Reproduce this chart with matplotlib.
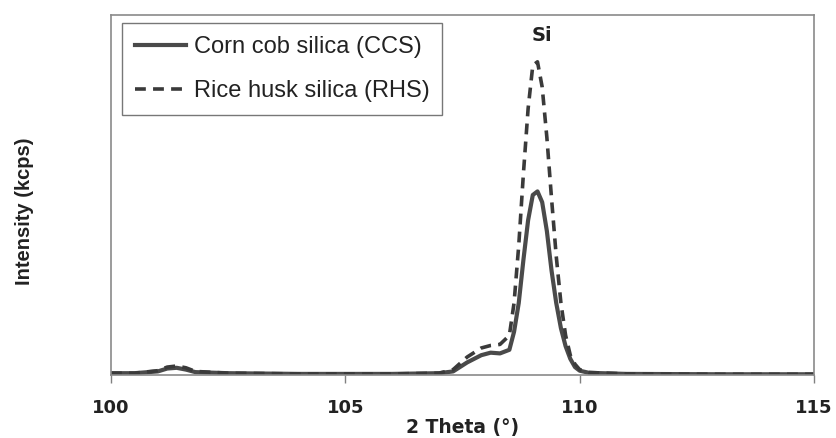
import numpy as np
import matplotlib.pyplot as plt

plt.rcParams['font.family'] = ['Liberation Sans', 'DejaVu Sans']

# 2 theta positions (deg) and intensities (arb. kcps) of both samples
two_theta = [100.0, 100.5, 101.0, 101.2, 101.4, 101.6, 101.8, 102.5, 104.0, 106.0,
             107.0, 107.3, 107.6, 107.9, 108.1, 108.3, 108.5, 108.6, 108.7, 108.8,
             108.9, 109.0, 109.1, 109.2, 109.3, 109.4, 109.5, 109.6, 109.7, 109.8,
             109.9, 110.0, 110.2, 111.0, 113.0, 115.0]
ccs = [0.05, 0.05, 0.10, 0.18, 0.20, 0.15, 0.08, 0.05, 0.03, 0.03,
       0.05, 0.10, 0.35, 0.55, 0.62, 0.60, 0.70, 1.20, 2.00, 3.20,
       4.30, 5.00, 5.10, 4.80, 4.00, 2.90, 2.00, 1.30, 0.80, 0.45,
       0.22, 0.12, 0.06, 0.03, 0.02, 0.02]
rhs = [0.05, 0.05, 0.12, 0.22, 0.25, 0.20, 0.10, 0.05, 0.03, 0.03,
       0.05, 0.15, 0.50, 0.75, 0.82, 0.85, 1.10, 2.00, 3.60, 5.60,
       7.40, 8.60, 8.70, 8.00, 6.60, 4.90, 3.30, 2.00, 1.10, 0.55,
       0.30, 0.15, 0.07, 0.03, 0.02, 0.02]
xticks = [100, 105, 110, 115]

fig = plt.figure(figsize=(8.36, 4.38), dpi=100)
ax = fig.add_axes([111/836, 1 - 375/438, 703/836, 360/438])

ax.plot(two_theta, ccs, color='#4a4a4a', lw=3.0, ls='-', label='Corn cob silica (CCS)')
ax.plot(two_theta, rhs, color='#3a3a3a', lw=2.6, ls=(0, (3, 2)), label='Rice husk silica (RHS)')

ax.set_xlim(100, 115)
ax.set_ylim(0, 10)
ax.set_xticks(xticks)
ax.set_xticklabels([str(t) for t in xticks], fontsize=13, fontweight='bold',
                   family='DejaVu Sans', color='#222222')
ax.set_yticks([])
ax.tick_params(axis='x', direction='out', length=6, width=1, color='#808080', pad=11)
for s in ax.spines.values():
    s.set_color('#8a8a8a')
    s.set_linewidth(1.2)

ax.set_xlabel('2 Theta (°)', fontsize=13.5, fontweight='bold', family='DejaVu Sans',
              color='#222222')
ax.xaxis.set_label_coords(0.5, -0.12)
ax.set_ylabel('Intensity (kcps)', fontsize=14.5, fontweight='bold', color='#222222')
ax.yaxis.set_label_coords(-0.11, 0.455)

ax.text(109.2, 9.44, 'Si', fontsize=14, fontweight='bold', family='DejaVu Sans',
        ha='center', va='center', color='#222222')

leg = ax.legend(loc='upper left', bbox_to_anchor=(0.015, 0.978), fontsize=17,
                frameon=True, fancybox=False, handlelength=2.2, handletextpad=0.3,
                borderpad=0.55, labelspacing=0.95, borderaxespad=0)
leg.get_frame().set_edgecolor('#555555')
leg.get_frame().set_linewidth(1.0)
for t in leg.get_texts():
    t.set_color('#222222')

fig.savefig('out.png', dpi=100)
